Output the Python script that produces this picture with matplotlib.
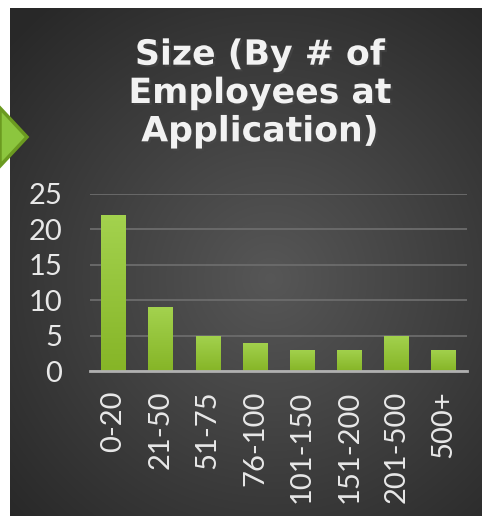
import numpy as np
import matplotlib.pyplot as plt
from matplotlib.patches import Polygon
from matplotlib.colors import LinearSegmentedColormap
import matplotlib.patheffects as pe

categories = ['0-20', '21-50', '51-75', '76-100', '101-150', '151-200', '201-500', '500+']
counts = [22, 9, 5, 4, 3, 3, 5, 3]
yticks = [0, 5, 10, 15, 20, 25]
title = 'Size (By # of\nEmployees at\nApplication)'

W, H = 482, 516
fig = plt.figure(figsize=(W / 100, H / 100), dpi=100)
fig.patch.set_facecolor('white')

# dark panel with radial gradient
bg = fig.add_axes([10 / W, 0, 1 - 10 / W, 1 - 8 / H])
yy, xx = np.mgrid[0:508, 0:472]
r = np.sqrt(((xx - 260) / 330) ** 2 + ((yy - 270) / 330) ** 2)
g = np.clip(0.34 - 0.17 * r, 0.16, 0.34)
bg.imshow(np.dstack([g, g, g]), aspect='auto', extent=[0, 1, 0, 1], origin='upper')
bg.axis('off')

# green arrow on the left edge
arrow = Polygon([(0, 1 - 108 / H), (27 / W, 1 - 137 / H), (0, 1 - 166 / H)],
                closed=True, transform=fig.transFigure, facecolor='#8cc63e',
                edgecolor='#6b9a20', linewidth=2.5, clip_on=False)
fig.patches.append(arrow)

fig.text(260 / W, 1 - 93 / H, title, ha='center', va='center', color='#f2f2f2',
         fontsize=25, fontweight='bold', linespacing=1.16,
         path_effects=[pe.withSimplePatchShadow(offset=(1.5, -1.5), alpha=0.6)])

ax = fig.add_axes([90 / W, 1 - 371 / H, 377 / W, (371 - 194) / H])
ax.patch.set_alpha(0)
x = np.arange(len(categories))
bars = ax.bar(x, counts, width=0.52, color='#93c43a', zorder=3)

# vertical gradient inside each bar
cmap = LinearSegmentedColormap.from_list('grn', ['#86b527', '#a3d24e'])
grad = np.linspace(0, 1, 100).reshape(-1, 1)
for b in bars:
    bx, bw, bh = b.get_x(), b.get_width(), b.get_height()
    im = ax.imshow(grad, cmap=cmap, origin='lower', aspect='auto',
                   extent=[bx, bx + bw, 0, bh], zorder=3.5)
    im.set_clip_path(b)
ax.set_xlim(-0.5, len(categories) - 0.5)
ax.set_ylim(0, 25)

ax.set_yticks(yticks)
ax.set_xticks(x)
ax.set_xticklabels(categories, rotation=90)
ax.grid(axis='y', color='#6c6c6c', linewidth=1.3, zorder=0)
for s in ['top', 'right', 'left']:
    ax.spines[s].set_visible(False)
ax.spines['bottom'].set_color('#b0b0b0')
ax.spines['bottom'].set_linewidth(2)
ax.spines['bottom'].set_zorder(4)
ax.tick_params(length=0, labelcolor='#e8e8e8', labelsize=21)
ax.tick_params(axis='y', pad=20)
ax.tick_params(axis='x', pad=14)
for lab in ax.get_xticklabels() + ax.get_yticklabels():
    lab.set_family(['Lato', 'DejaVu Sans'])
    lab.set_color('#e8e8e8')

fig.savefig('out.png', dpi=100)
